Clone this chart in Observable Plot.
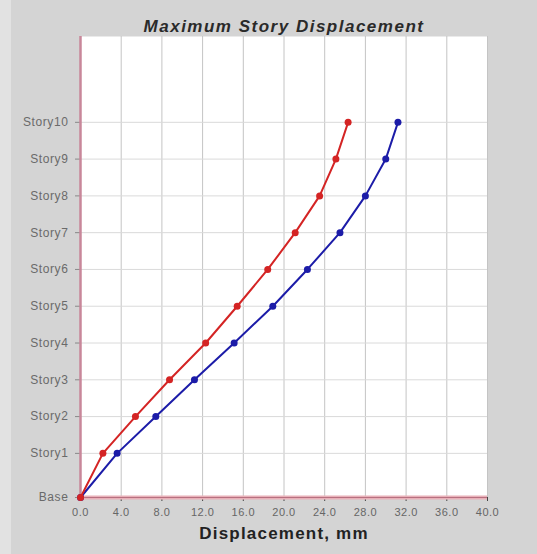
<!DOCTYPE html>
<html>
<head>
<meta charset="utf-8">
<script src="https://cdn.jsdelivr.net/npm/d3@7"></script>
<script src="https://cdn.jsdelivr.net/npm/@observablehq/plot@0.6"></script>
<style>
  html, body { margin: 0; padding: 0; background: #d4d4d4; }
  #chart { position: relative; width: 537px; height: 554px; }
  #strip { position: absolute; left: 0; top: 0; width: 11px; height: 554px; background: #e2e2e2; }
</style>
</head>
<body>
<div id="chart"><div id="strip"></div></div>
<script>
const stories = ["Base","Story1","Story2","Story3","Story4","Story5","Story6","Story7","Story8","Story9","Story10"];
const elevations = [0, 3.6, 6.6, 9.6, 12.6, 15.6, 18.6, 21.6, 24.6, 27.6, 30.6];
const redDisp = [0, 2.2, 5.4, 8.75, 12.3, 15.4, 18.4, 21.1, 23.5, 25.1, 26.3];
const blueDisp = [0, 3.6, 7.4, 11.2, 15.1, 18.9, 22.3, 25.5, 28.0, 30.0, 31.2];
const xTicks = [0, 4, 8, 12, 16, 20, 24, 28, 32, 36, 40];
const titleText = "Maximum Story Displacement";
const xLabel = "Displacement, mm";

const red = stories.map((s, i) => ({story: s, elev: elevations[i], disp: redDisp[i]}));
const blue = stories.map((s, i) => ({story: s, elev: elevations[i], disp: blueDisp[i]}));

const chart = Plot.plot({
  width: 537,
  height: 554,
  marginTop: 36,
  marginLeft: 80,
  marginRight: 50,
  marginBottom: 57,
  style: {background: "transparent", fontFamily: "'Liberation Sans', Arial, sans-serif"},
  x: {domain: [0, 40]},
  y: {domain: [0, 37.6]},
  marks: [
    Plot.frame({fill: "white", stroke: "none"}),
    Plot.gridX(xTicks, {stroke: "#c4c4c4", strokeOpacity: 1}),
    Plot.gridY(elevations, {stroke: "#dadada", strokeOpacity: 1}),
    Plot.axisX(xTicks, {tickFormat: d3.format(".1f"), tickSize: 4, tickPadding: 7, fontSize: 11, color: "#666", stroke: "#444", label: null}),
    Plot.axisY(elevations, {tickFormat: d => stories[elevations.indexOf(d)], tickSize: 5, tickPadding: 7, fontSize: 12, color: "#6a6a6a", stroke: "#888", label: null}),
    Plot.ruleY([0], {stroke: "#e8b0b8", strokeWidth: 4}),
    Plot.ruleY([0], {stroke: "#b87080", strokeWidth: 1.2}),
    Plot.ruleX([0], {stroke: "#c8879a", strokeWidth: 2.5}),
    Plot.line(blue, {x: "disp", y: "elev", stroke: "#1c1ca8", strokeWidth: 2}),
    Plot.dot(blue, {x: "disp", y: "elev", fill: "#1c1ca8", r: 3.5}),
    Plot.line(red, {x: "disp", y: "elev", stroke: "#d42424", strokeWidth: 2}),
    Plot.dot(red, {x: "disp", y: "elev", fill: "#d42424", r: 3.5}),
    Plot.text([titleText], {frameAnchor: "top", dy: -17, fontSize: 17, fontWeight: "bold", fontStyle: "italic", fill: "#2a2a2a"}),
    Plot.text([xLabel], {frameAnchor: "bottom", dy: 41, fontSize: 17, fontWeight: "bold", fill: "#222"})
  ]
});
document.getElementById("chart").appendChild(chart);
const svg = d3.select(chart);
svg.selectAll("g[aria-label='y-axis tick label']").attr("letter-spacing", 0.6);
svg.selectAll("g[aria-label='x-axis tick label']").attr("letter-spacing", 0.5);
const texts = svg.selectAll("g[aria-label='text']").nodes();
if (texts[0]) d3.select(texts[0]).attr("letter-spacing", 1.5);
if (texts[1]) d3.select(texts[1]).attr("letter-spacing", 1.2);
</script>
</body>
</html>
